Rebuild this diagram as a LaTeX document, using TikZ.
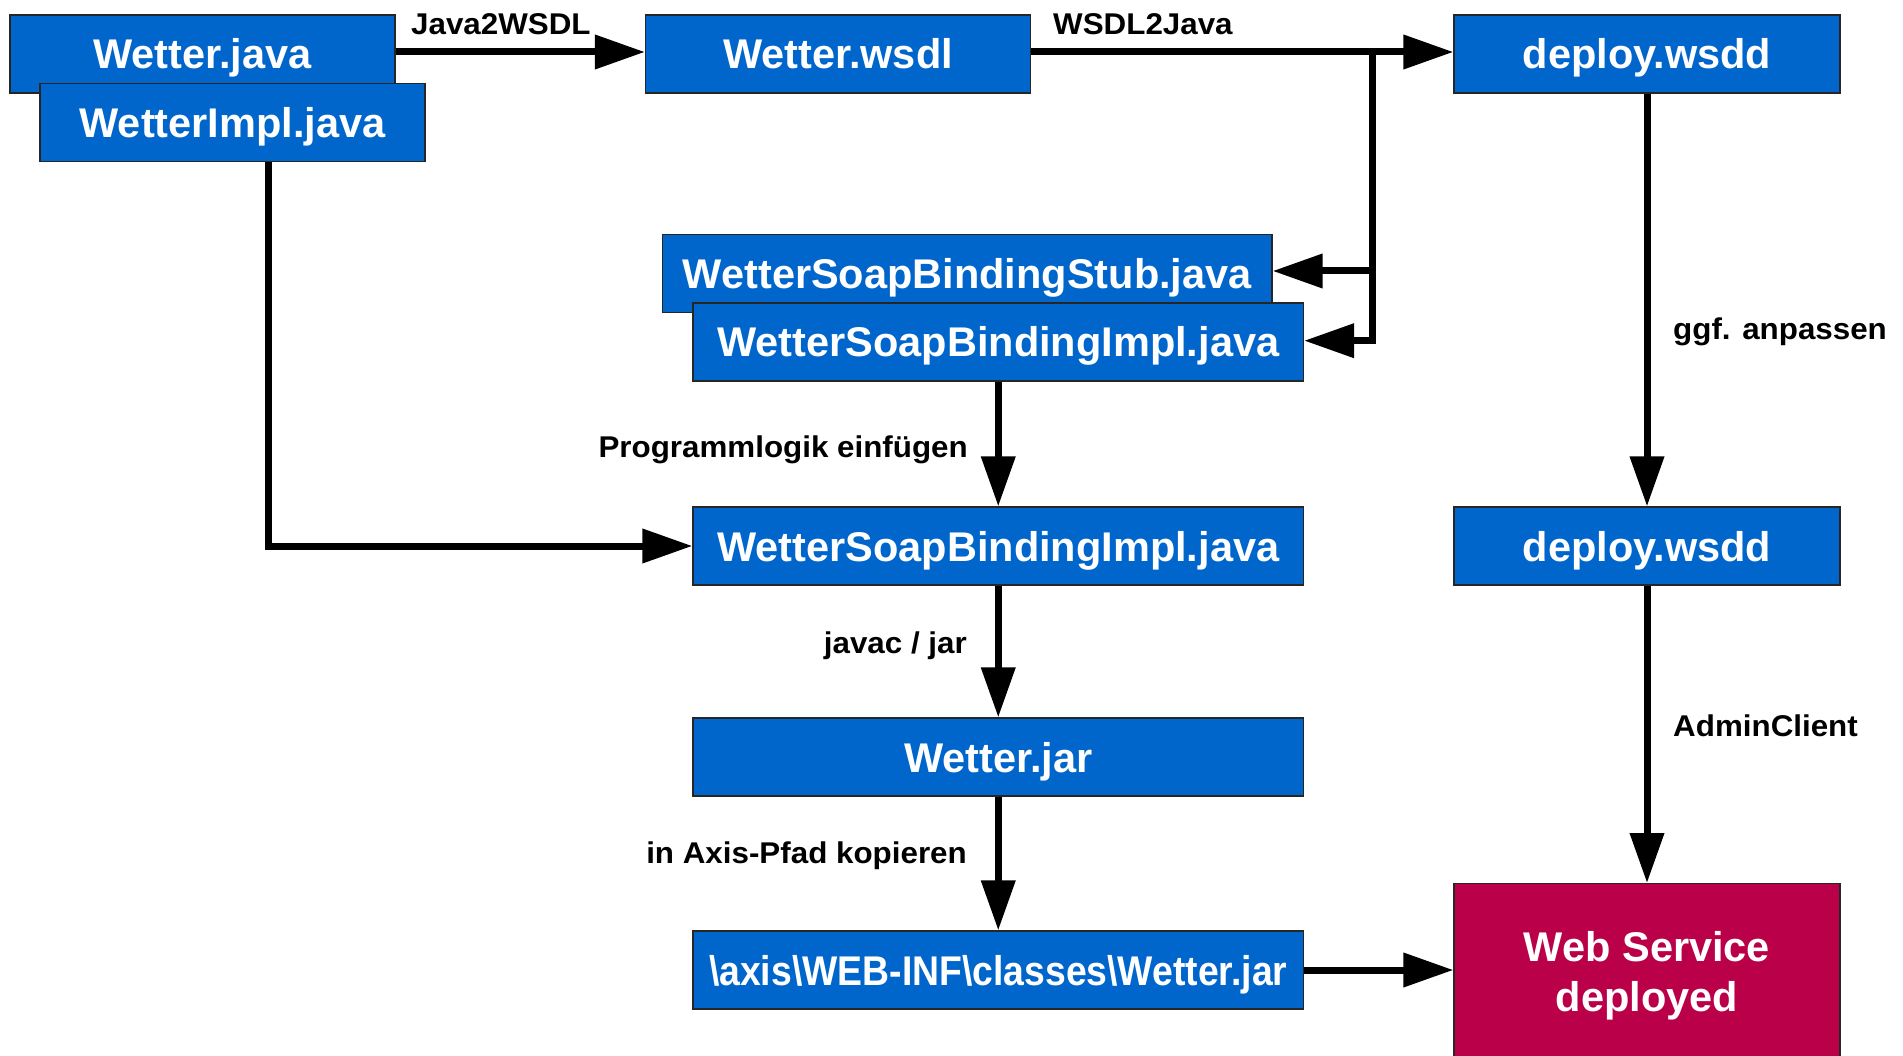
\documentclass[tikz,border=0pt]{standalone}
\usepackage{fontspec}
\setmainfont{Liberation Sans}
\newfontfamily\labelfam[FakeStretch=1.045]{Liberation Sans}
\usetikzlibrary{arrows.meta}
\definecolor{fileblue}{RGB}{0,102,204}
\definecolor{donered}{RGB}{186,0,72}
\begin{document}
\begin{tikzpicture}[x=1pt,y=-1pt,
  boxbase/.style={draw=black!85, line width=1.2pt, text=white,
    font=\fontsize{41.5}{48}\selectfont\bfseries, inner sep=0pt},
  filebox/.style={boxbase, fill=fileblue, minimum height=78pt,
    text height=30pt, text depth=0pt},
  flow/.style={line width=7pt, -{Triangle[length=50pt,width=33pt]}},
  steplabel/.style={font=\labelfam\fontsize{30}{36}\selectfont\bfseries,
    inner sep=0pt}]
\useasboundingbox (0,0) rectangle (1903,1056);

% source files
\node[filebox, minimum width=385pt] (wjava) at (202.5,54) {Wetter.java};
\node[filebox, minimum width=385pt] (wimpl) at (232.5,122.5) {WetterImpl.java};
\node[filebox, minimum width=385pt] (wsdl) at (838,54) {Wetter.wsdl};
\node[filebox, minimum width=386pt] (dep1) at (1647,54) {deploy.wsdd};

% generated classes
\node[filebox, minimum width=609.5pt] (stub) at (967.25,273.5) {WetterSoapBindingStub.java};
\node[filebox, minimum width=610.5pt] (impl1) at (998.25,342) {WetterSoapBindingImpl.java};

% build chain
\node[filebox, minimum width=610.5pt] (impl2) at (998.25,546) {WetterSoapBindingImpl.java};
\node[filebox, minimum width=610.5pt] (jar) at (998.25,757) {Wetter.jar};
\node[filebox, minimum width=610.5pt] (axis) at (998.25,970)
  {\scalebox{0.9}[1]{\textbackslash axis\textbackslash WEB-INF\textbackslash classes\textbackslash Wetter.jar}};

% deployment descriptor and result (runs off the lower edge)
\node[filebox, minimum width=386pt] (dep2) at (1647,546) {deploy.wsdd};
\node[boxbase, fill=donered, minimum width=386pt, minimum height=184pt,
  align=center] (ws) at (1647,975.6) {Web Service\\[1.5pt]deployed};

% connectors
\coordinate (fork) at (1372,52);
\coordinate (stubin) at ([yshift=2.5pt]stub.east);
\coordinate (implin) at ([yshift=1.3pt]impl1.east);
\draw[flow] ([yshift=2pt]wjava.east) -- ([yshift=2pt]wsdl.west);
\draw[flow] ([yshift=2pt]wsdl.east) -- ([yshift=2pt]dep1.west);
\draw[flow] (fork) |- (implin);
\draw[flow] (fork |- stubin) -- (stubin);
\draw[flow] ([xshift=35.5pt]wimpl.south) |- (impl2.west);
\draw[flow] (impl1.south) -- (impl2.north);
\draw[flow] (impl2.south) -- (jar.north);
\draw[flow] (jar.south) -- (axis.north);
\draw[flow] (axis.east) -- (axis.east -| ws.west);
\draw[flow] (dep1.south) -- (dep2.north);
\draw[flow] (dep2.south) -- (ws.north);

% step labels
\node[steplabel, anchor=base west] (tjava) at (411,34.5) {Java2WSDL};
\node[steplabel, anchor=base west] (twsdl) at (1053,34.5) {WSDL2Java};
\node[steplabel, anchor=base east] (tlogic) at (968,457) {Programmlogik einfügen};
\node[steplabel, anchor=base east] (tjavac) at (967,653) {javac / jar};
\node[steplabel, anchor=base east] (tcopy) at (967,863) {in Axis-Pfad kopieren};
\node[steplabel, anchor=base west] (tedit) at (1673,340) {ggf. anpassen};
\node[steplabel, anchor=base west] (tadmin) at (1673,736) {AdminClient};
\end{tikzpicture}
\end{document}
